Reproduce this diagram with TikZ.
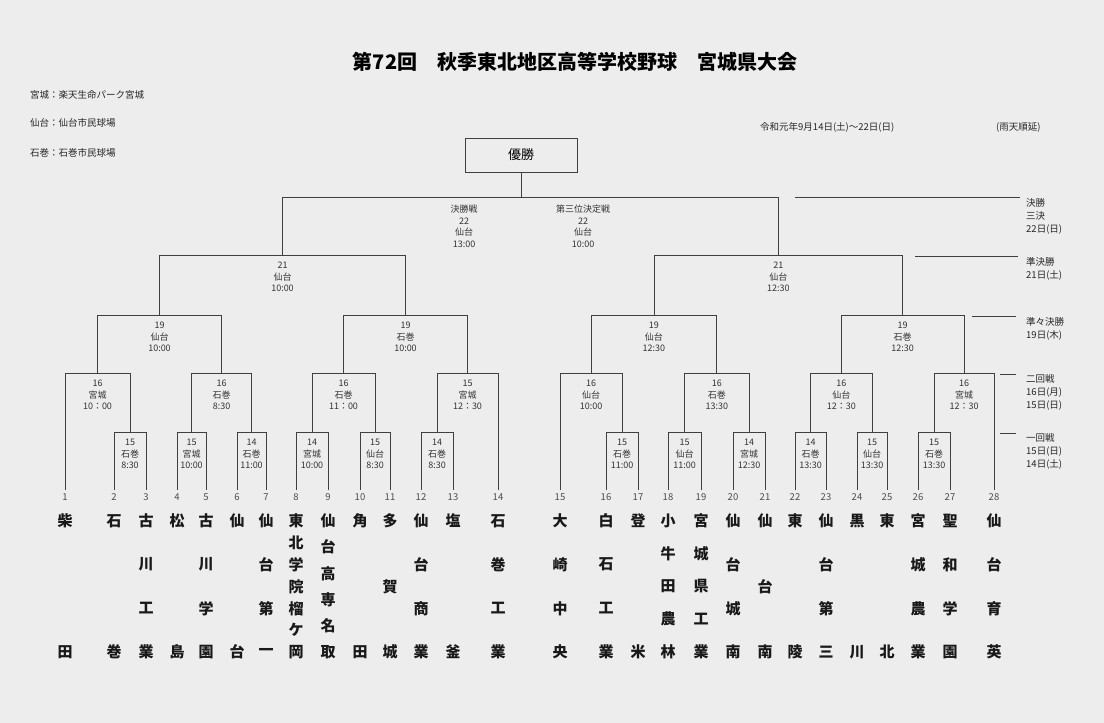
\documentclass[tikz,border=0pt]{standalone}
\usepackage{fontspec}
\setmainfont{Noto Sans CJK JP}
\begin{document}
\begin{tikzpicture}[x=1pt,y=-1pt,
  ln/.style={draw=black!75,line width=0.8pt},
  lbl/.style={anchor=north,align=center,font=\fontsize{9}{11.5}\selectfont,text=black!80,inner sep=0pt},
  num/.style={font=\fontsize{9.5}{10}\selectfont,text=black!70,inner sep=0pt},
  nm/.style={font=\fontsize{15}{15}\bfseries\selectfont,text=black!90,inner sep=0pt},
  sm/.style={font=\fontsize{9.5}{13}\selectfont,text=black!85,inner sep=0pt,anchor=west,align=left}]
\fill[black!7] (0,0) rectangle (1104,723);
\useasboundingbox (0,0) rectangle (1104,723);
\newcommand\bk[6]{\draw[ln] (#1,#3) |- (#2,#5) -- (#2,#4);
  \node[lbl] at ({(#1+#2)/2},#5+7) {#6};}
\newcommand\tm[4]{\node[num] at (#1,497) {#2};
  \foreach \c [count=\i] in {#4} {\node[nm] at (#1,{521+(\i-1)*131/(#3-1)}) {\c};}}
% header
\node[font=\fontsize{20}{22}\bfseries\selectfont] (title) at (575,62) {第72回　秋季東北地区高等学校野球　宮城県大会};
\node[sm] (v1) at (30,95) {宮城：楽天生命パーク宮城};
\node[sm] (v2) at (30,123) {仙台：仙台市民球場};
\node[sm] (v3) at (30,153) {石巻：石巻市民球場};
\node[sm] (dt) at (760,127) {令和元年9月14日(土)～22日(日)};
\node[sm] (rn) at (996,127) {(雨天順延)};
\node[draw=black!75,line width=0.8pt,minimum width=112pt,minimum height=34pt,font=\fontsize{13}{13}\selectfont] (win) at (521,155) {優勝};
% round 1 boxes
\bk{114}{146}{490}{490}{432}{15\\石巻\\8:30}
\bk{177}{206}{490}{490}{432}{15\\宮城\\10:00}
\bk{237}{266}{490}{490}{432}{14\\石巻\\11:00}
\bk{296}{328}{490}{490}{432}{14\\宮城\\10:00}
\bk{360}{390}{490}{490}{432}{15\\仙台\\8:30}
\bk{421}{453}{490}{490}{432}{14\\石巻\\8:30}
\bk{606}{638}{490}{490}{432}{15\\石巻\\11:00}
\bk{668}{701}{490}{490}{432}{15\\仙台\\11:00}
\bk{733}{765}{490}{490}{432}{14\\宮城\\12:30}
\bk{795}{826}{490}{490}{432}{14\\石巻\\13:30}
\bk{857}{887}{490}{490}{432}{15\\仙台\\13:30}
\bk{918}{950}{490}{490}{432}{15\\石巻\\13:30}
% round 2
\bk{65}{130}{490}{432}{373}{16\\宮城\\10：00}
\bk{191.5}{251.5}{432}{432}{373}{16\\石巻\\8:30}
\bk{312}{375}{432}{432}{373}{16\\石巻\\11：00}
\bk{437}{498}{432}{490}{373}{15\\宮城\\12：30}
\bk{560}{622}{490}{432}{373}{16\\仙台\\10:00}
\bk{684.5}{749}{432}{432}{373}{16\\石巻\\13:30}
\bk{810.5}{872}{432}{432}{373}{16\\仙台\\12：30}
\bk{934}{994}{432}{490}{373}{16\\宮城\\12：30}
% quarterfinals
\bk{97.5}{221.5}{373}{373}{315}{19\\仙台\\10:00}
\bk{343.5}{467.5}{373}{373}{315}{19\\石巻\\10:00}
\bk{591}{716.75}{373}{373}{315}{19\\仙台\\12:30}
\bk{841.25}{964}{373}{373}{315}{19\\石巻\\12:30}
% semifinals
\bk{159.5}{405.5}{315}{315}{255}{21\\仙台\\10:00}
\bk{653.9}{902.6}{315}{315}{255}{21\\仙台\\12:30}
% final
\draw[ln] (282.5,255) |- (778.25,197) -- (778.25,255);
\draw[ln] (win.south) -- (521,197);
\node[lbl] (fl) at (464,205) {決勝戦\\22\\仙台\\13:00};
\node[lbl] (tp) at (583,205) {第三位決定戦\\22\\仙台\\10:00};
% right legend
\draw[ln] (795,197) -- (1020,197);
\draw[ln] (915,256) -- (1018,256);
\draw[ln] (972,316) -- (1016,316);
\draw[ln] (1000,374) -- (1016,374);
\draw[ln] (1000,433) -- (1016,433);
\node[sm,anchor=north west] (l1) at (1026,198) {決勝\\三決\\22日(日)};
\node[sm,anchor=north west] (l2) at (1026,257) {準決勝\\21日(土)};
\node[sm,anchor=north west] (l3) at (1026,317) {準々決勝\\19日(木)};
\node[sm,anchor=north west] (l4) at (1026,374) {二回戦\\16日(月)\\15日(日)};
\node[sm,anchor=north west] (l5) at (1026,433) {一回戦\\15日(日)\\14日(土)};
% teams
\tm{65}{1}{2}{柴,田}
\tm{114}{2}{2}{石,巻}
\tm{146}{3}{4}{古,川,工,業}
\tm{177}{4}{2}{松,島}
\tm{206}{5}{4}{古,川,学,園}
\tm{237}{6}{2}{仙,台}
\tm{266}{7}{4}{仙,台,第,一}
\tm{296}{8}{7}{東,北,学,院,榴,ケ,岡}
\tm{328}{9}{6}{仙,台,高,専,名,取}
\tm{360}{10}{2}{角,田}
\tm{390}{11}{3}{多,賀,城}
\tm{421}{12}{4}{仙,台,商,業}
\tm{453}{13}{2}{塩,釜}
\tm{498}{14}{4}{石,巻,工,業}
\tm{560}{15}{4}{大,崎,中,央}
\tm{606}{16}{4}{白,石,工,業}
\tm{638}{17}{2}{登,米}
\tm{668}{18}{5}{小,牛,田,農,林}
\tm{701}{19}{5}{宮,城,県,工,業}
\tm{733}{20}{4}{仙,台,城,南}
\tm{765}{21}{3}{仙,台,南}
\tm{795}{22}{2}{東,陵}
\tm{826}{23}{4}{仙,台,第,三}
\tm{857}{24}{2}{黒,川}
\tm{887}{25}{2}{東,北}
\tm{918}{26}{4}{宮,城,農,業}
\tm{950}{27}{4}{聖,和,学,園}
\tm{994}{28}{4}{仙,台,育,英}
\end{tikzpicture}
\end{document}
